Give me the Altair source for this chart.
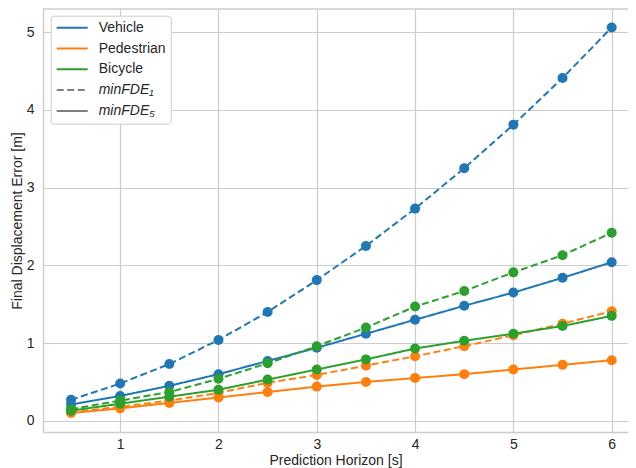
import altair as alt
import pandas as pd

# ---- data ----
horizon = [0.5, 1.0, 1.5, 2.0, 2.5, 3.0, 3.5, 4.0, 4.5, 5.0, 5.5, 6.0]
vehicle_fde1 = [0.27, 0.48, 0.73, 1.04, 1.40, 1.81, 2.25, 2.73, 3.25, 3.81, 4.41, 5.06]
vehicle_fde5 = [0.21, 0.32, 0.45, 0.60, 0.77, 0.94, 1.12, 1.30, 1.48, 1.65, 1.84, 2.04]
pedestrian_fde1 = [0.11, 0.18, 0.26, 0.36, 0.49, 0.59, 0.71, 0.83, 0.96, 1.10, 1.25, 1.41]
pedestrian_fde5 = [0.10, 0.16, 0.23, 0.30, 0.37, 0.44, 0.50, 0.55, 0.60, 0.66, 0.72, 0.78]
bicycle_fde1 = [0.15, 0.26, 0.37, 0.54, 0.74, 0.96, 1.20, 1.47, 1.67, 1.91, 2.13, 2.42]
bicycle_fde5 = [0.13, 0.22, 0.31, 0.40, 0.53, 0.66, 0.79, 0.93, 1.03, 1.12, 1.22, 1.35]

agents = ["Vehicle", "Pedestrian", "Bicycle"]
metrics = ["minFDE\u2081", "minFDE\u2085"]
x_ticks = [1, 2, 3, 4, 5, 6]
y_ticks = [0, 1, 2, 3, 4, 5]

series = {
    ("Vehicle", metrics[0]): vehicle_fde1,
    ("Vehicle", metrics[1]): vehicle_fde5,
    ("Pedestrian", metrics[0]): pedestrian_fde1,
    ("Pedestrian", metrics[1]): pedestrian_fde5,
    ("Bicycle", metrics[0]): bicycle_fde1,
    ("Bicycle", metrics[1]): bicycle_fde5,
}
rows = []
for (agent, metric), vals in series.items():
    for h, v in zip(horizon, vals):
        rows.append({"h": h, "fde": v, "agent": agent, "metric": metric})
df = pd.DataFrame(rows)

entries = agents + metrics
colors = ["#1f77b4", "#ff7f0e", "#2ca02c", "#808080", "#808080"]
dashes = [[1, 0], [1, 0], [1, 0], [7, 3.5], [1, 0]]

W, H = 585, 423
FONT = "Liberation Sans"
TXT = "#262626"
GRID = "#cccccc"

xscale = alt.Scale(domain=[0.215, 6.166], nice=False, zero=False)
yscale = alt.Scale(domain=[-0.144, 5.298], nice=False, zero=False)

leg = alt.Legend(
    title=None,
    labelFontStyle={"expr": "test(/minFDE/, datum.label) ? 'italic' : 'normal'"},
)

base = alt.Chart(df)

lines = base.mark_line(strokeWidth=2).encode(
    x=alt.X("h:Q", scale=xscale,
            axis=alt.Axis(values=x_ticks, title="Prediction Horizon [s]", format="d")),
    y=alt.Y("fde:Q", scale=yscale,
            axis=alt.Axis(values=y_ticks, title="Final Displacement Error [m]", format="d")),
    color=alt.Color("agent:N", scale=alt.Scale(domain=entries, range=colors), legend=leg),
    strokeDash=alt.StrokeDash("metric:N", scale=alt.Scale(domain=entries, range=dashes), legend=leg),
)

points = base.mark_circle(size=100, opacity=1).encode(
    x=alt.X("h:Q", scale=xscale),
    y=alt.Y("fde:Q", scale=yscale),
    color=alt.Color("agent:N", scale=alt.Scale(domain=entries, range=colors), legend=None),
    detail="metric:N",
)

top_border = alt.Chart(pd.DataFrame({"k": [0]})).mark_rule(
    color=GRID, strokeWidth=1.4
).encode(x=alt.value(0), x2=alt.value(W), y=alt.value(0))

chart = alt.layer(top_border, lines, points).properties(
    width=W, height=H,
    autosize=alt.AutoSizeParams(type="none"),
    padding={"left": 35, "top": 1, "right": 0, "bottom": 36},
).configure_view(stroke=None).configure_axis(
    grid=True, gridColor=GRID, gridWidth=1.2,
    domain=True, domainColor=GRID, domainWidth=1.4,
    ticks=False,
    labelFont=FONT, labelFontSize=14, labelColor=TXT,
    titleFont=FONT, titleFontSize=14, titleColor=TXT, titleFontWeight="normal",
).configure_axisX(
    labelPadding=5, titlePadding=2,
).configure_axisY(
    labelPadding=9, titlePadding=2,
).configure_legend(
    orient="none", legendX=7.7, legendY=6.7, direction="vertical",
    symbolType="stroke", symbolSize=961, symbolStrokeWidth=2,
    clipHeight=14, rowPadding=6.8, padding=5, labelOffset=10,
    labelFont=FONT, labelFontSize=14, labelColor=TXT,
    strokeColor=GRID, fillColor="white", cornerRadius=3,
)

chart.save("out.html", embed_options={"renderer": "svg", "actions": False})
